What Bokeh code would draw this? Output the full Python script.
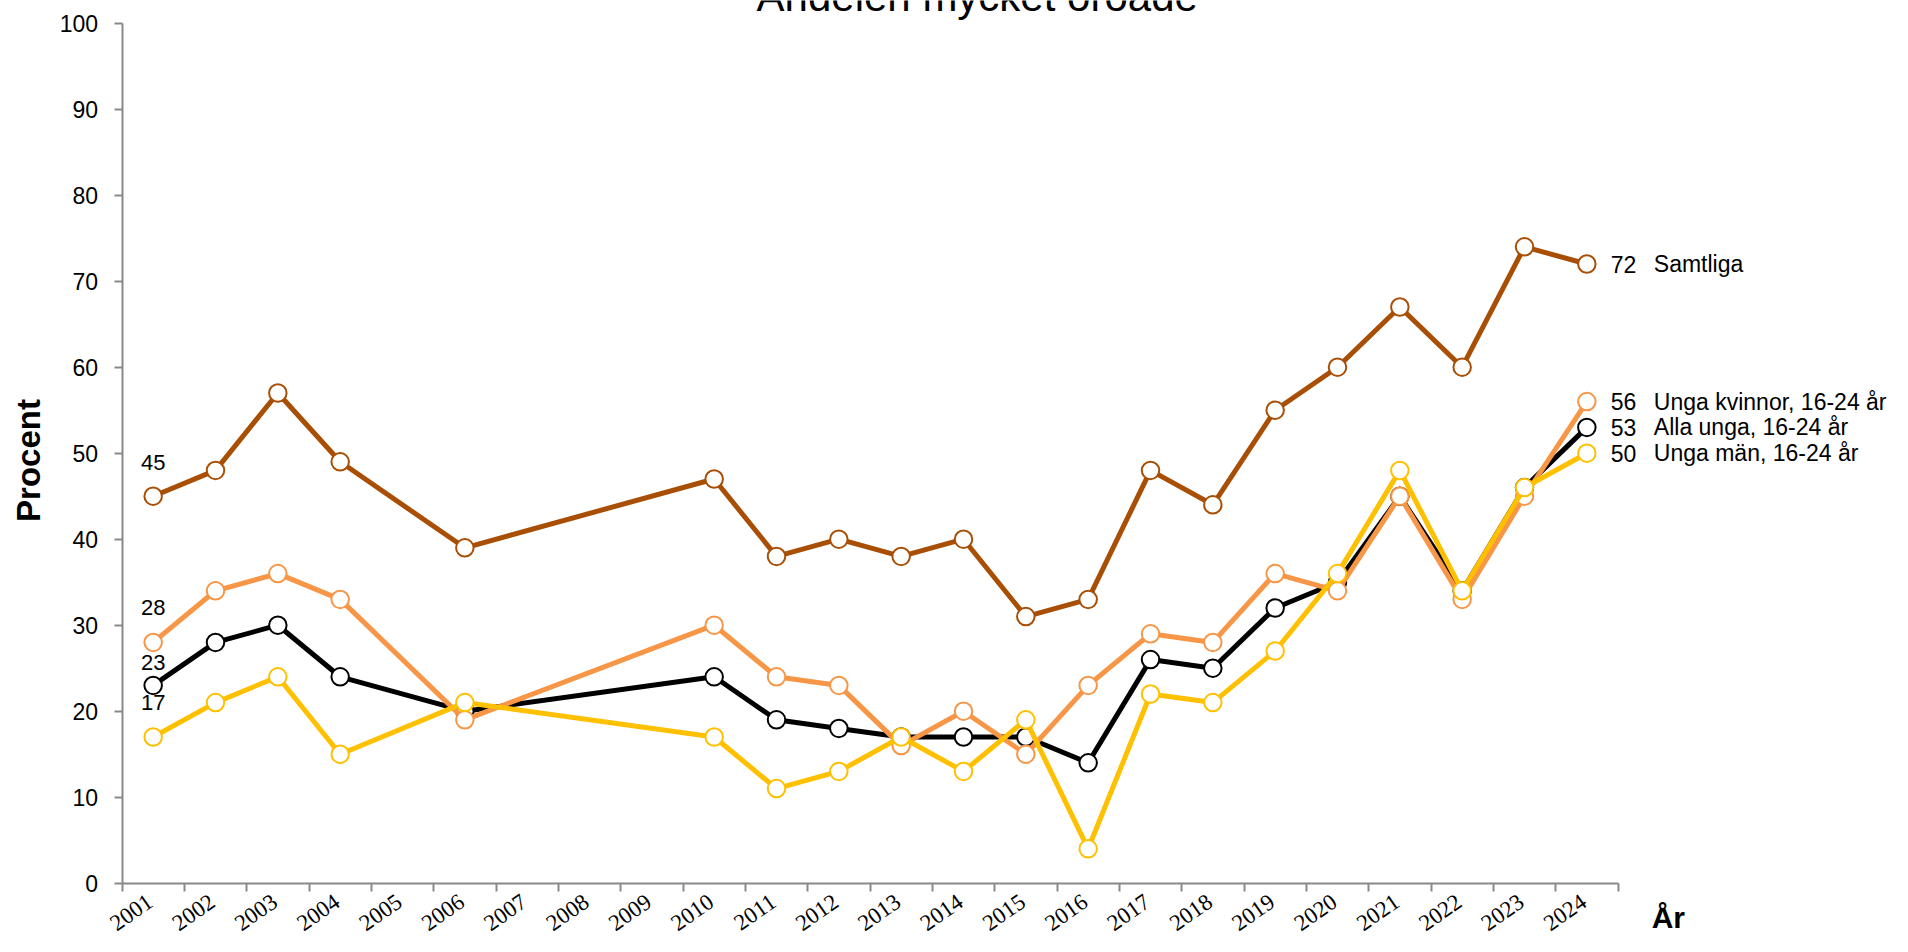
import math
from bokeh.plotting import figure
from bokeh.models import Range1d, FixedTicker, Label, LabelSet, ColumnDataSource
from bokeh.embed import file_html
from bokeh.resources import INLINE

# ---------------- data ----------------
years = [str(y) for y in range(2001, 2025)]
samtliga = [45, 48, 57, 49, None, 39, None, None, None, 47, 38, 40, 38, 40, 31, 33, 48, 44, 55, 60, 67, 60, 74, 72]
alla_unga = [23, 28, 30, 24, None, 20, None, None, None, 24, 19, 18, 17, 17, 17, 14, 26, 25, 32, 35, 45, 34, 46, 53]
unga_kvinnor = [28, 34, 36, 33, None, 19, None, None, None, 30, 24, 23, 16, 20, 15, 23, 29, 28, 36, 34, 45, 33, 45, 56]
unga_man = [17, 21, 24, 15, None, 21, None, None, None, 17, 11, 13, 17, 13, 19, 4, 22, 21, 27, 36, 48, 34, 46, 50]

names = ["Samtliga", "Alla unga, 16-24 år", "Unga kvinnor, 16-24 år", "Unga män, 16-24 år"]
y_ticks = list(range(0, 101, 10))
title_text = "Andelen mycket oroade"
y_label = "Procent"
x_label = "År"

# ---------------- styles ----------------
series = [samtliga, alla_unga, unga_kvinnor, unga_man]
colors = ["#A84F05", "#000000", "#F79646", "#FFC000"]
first_offsets = [34, 23, 35, 35]
FONT = "Liberation Sans"
AXIS_COLOR = "#898989"

W, H = 1892, 936
X0_PX, X24_PX = 121.5, 1617.5      # pixel position of x=0 and x=24
Y0_PX, Y100_PX = 882.7, 22.7       # pixel position of y=0 and y=100
n = len(years)
xs_per_px = n / (X24_PX - X0_PX)
ys_per_px = 100 / (Y0_PX - Y100_PX)
x_range = Range1d(-X0_PX * xs_per_px, n + (W - X24_PX) * xs_per_px)
y_range = Range1d(-(H - Y0_PX) * ys_per_px, 100 + Y100_PX * ys_per_px)

p = figure(width=W, height=H, output_backend="svg", toolbar_location=None,
           x_range=x_range, y_range=y_range, min_border=0)
p.outline_line_color = None
p.xgrid.visible = False
p.ygrid.visible = False
p.background_fill_color = "white"
p.border_fill_color = "white"

# y axis
p.yaxis.fixed_location = 0
p.yaxis.bounds = (0, 100)
p.yaxis.ticker = FixedTicker(ticks=y_ticks)
p.yaxis.axis_line_color = AXIS_COLOR
p.yaxis.axis_line_width = 2
p.yaxis.major_tick_line_color = AXIS_COLOR
p.yaxis.major_tick_line_width = 2
p.yaxis.major_tick_out = 8
p.yaxis.major_tick_in = 0
p.yaxis.minor_tick_line_color = None
p.yaxis.major_label_standoff = 16
p.yaxis.major_label_text_font = FONT
p.yaxis.major_label_text_font_size = "23px"
p.yaxis.major_label_text_color = "black"

# x axis: boundary ticks only, labels drawn separately
p.xaxis.fixed_location = 0
p.xaxis.bounds = (0, n)
p.xaxis.ticker = FixedTicker(ticks=[], minor_ticks=list(range(n + 1)))
p.xaxis.axis_line_color = AXIS_COLOR
p.xaxis.axis_line_width = 2
p.xaxis.minor_tick_line_color = AXIS_COLOR
p.xaxis.minor_tick_line_width = 2
p.xaxis.minor_tick_out = 8
p.xaxis.minor_tick_in = 0
p.xaxis.major_tick_line_color = None
p.xaxis.major_label_text_font_size = "0px"

# series
for vals, col in zip(series, colors):
    xs = [i + 0.5 for i, v in enumerate(vals) if v is not None]
    ys = [v for v in vals if v is not None]
    p.line(xs, ys, line_color=col, line_width=5, line_join="round")
    p.scatter(xs, ys, size=17.5, fill_color="white", line_color=col, line_width=2)

# end labels
for vals, name in zip(series, names):
    last_x = len(vals) - 0.5
    last = vals[-1]
    p.add_layout(Label(x=last_x, y=last, x_offset=24, text=str(last), text_baseline="middle",
                       text_font=FONT, text_font_size="23px", text_color="black"))
    p.add_layout(Label(x=last_x, y=last, x_offset=67, text=name, text_baseline="middle",
                       text_font=FONT, text_font_size="23px", text_color="black"))

# first-value labels
for vals, off in zip(series, first_offsets):
    p.add_layout(Label(x=0.5, y=vals[0], y_offset=off, text=str(vals[0]), text_align="center",
                       text_baseline="middle", text_font=FONT, text_font_size="22px", text_color="black"))

# year labels
src = ColumnDataSource(dict(x=[i + 0.5 for i in range(n)], y=[0] * n, text=years))
p.add_layout(LabelSet(x="x", y="y", text="text", source=src, angle=math.radians(35),
                      x_offset=-3, y_offset=-16, text_align="right", text_baseline="middle",
                      text_font=FONT, text_font_size="23px", text_color="black"))

# axis titles and title
p.add_layout(Label(x=-1.5, y=49.15, text=y_label, angle=math.pi / 2, text_align="center",
                   text_baseline="middle", text_font=FONT, text_font_size="33px",
                   text_font_style="bold", text_color="black"))
p.add_layout(Label(x=24.54, y=-4.0, text=x_label, text_align="left", text_baseline="middle",
                   text_font=FONT, text_font_size="30px", text_font_style="bold", text_color="black"))
p.add_layout(Label(x=13.72, y=103.1, text=title_text, text_align="center", text_baseline="middle",
                   text_font=FONT, text_font_size="42px", text_color="black"))

open("out.html", "w").write(file_html(p, INLINE))
